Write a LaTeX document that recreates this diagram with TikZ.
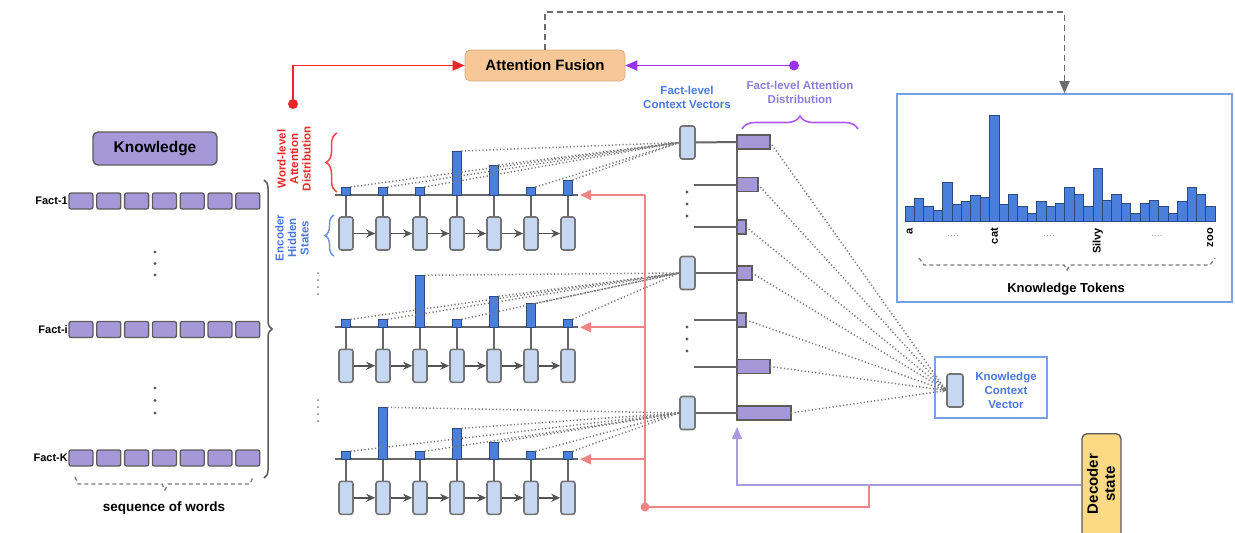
\documentclass[tikz,border=0pt]{standalone}
\usepackage{fontspec}
\setmainfont{Liberation Sans}
\usetikzlibrary{arrows.meta,decorations.pathreplacing,calc}

\definecolor{kpurple}{HTML}{A598D8}
\definecolor{boxgray}{HTML}{5C5C5C}
\definecolor{hblue}{HTML}{C6D7F2}
\definecolor{barblue}{HTML}{4A80DB}
\definecolor{bardark}{HTML}{2D4A80}
\definecolor{axisgray}{HTML}{666666}
\definecolor{afus}{HTML}{F8C797}
\definecolor{decy}{HTML}{FCD985}
\definecolor{redlight}{HTML}{F08585}
\definecolor{redbright}{HTML}{E82828}
\definecolor{violet}{HTML}{9A30F0}
\definecolor{declilac}{HTML}{A99BE0}
\definecolor{lblblue}{HTML}{4A78E0}
\definecolor{lbllilac}{HTML}{8A7FD8}
\definecolor{tokblue}{HTML}{78A2E8}
\definecolor{dotgray}{HTML}{7A7A7A}

\tikzset{
  word/.style={draw=boxgray, fill=kpurple, rounded corners=2pt, minimum width=24pt,
    minimum height=16pt, inner sep=0pt, line width=1.3pt},
  hidden/.style={draw=boxgray!85, fill=hblue, rounded corners=2.5pt, minimum width=14pt,
    minimum height=33pt, inner sep=0pt, line width=1.6pt},
  abar/.style={draw=bardark, fill=barblue, inner sep=0pt, outer sep=0pt, minimum width=9pt,
    anchor=south, line width=1pt},
  fbar/.style={draw=boxgray, fill=kpurple, inner sep=0pt, outer sep=0pt, minimum height=14pt,
    anchor=west, line width=1.4pt},
  att/.style={draw=dotgray, line width=1.5pt, dash pattern=on 1.2pt off 2.3pt},
  axisline/.style={draw=axisgray, line width=2pt},
  stem/.style={draw=axisgray, line width=1.7pt},
  harrow/.style={draw=boxgray!90!black, line width=1.6pt, -{Stealth[length=9pt,width=8pt]}},
  redline/.style={draw=redlight, line width=1.7pt},
  redtip/.style={redline, -{Triangle[length=11pt,width=10pt]}},
  factlab/.style={font=\fontsize{11}{13}\selectfont\bfseries, inner sep=0pt},
  toklab/.style={font=\fontsize{11}{13}\selectfont\bfseries, rotate=90, anchor=east, inner sep=0pt},
  gdot/.style={fill=boxgray},
}

% one encoder row: #1 index, #2 y of the attention axis, #3 bar heights
\newcommand{\encblock}[3]{%
  \draw[axisline] (335,#2) -- (578,#2);
  \coordinate (le-#1) at (580,#2);
  \foreach \h [count=\i] in {#3} {
    \node[hidden] (h-#1-\i) at ({346+37*(\i-1)},#2+38.5) {};
    \draw[stem] ({346+37*(\i-1)},#2) -- (h-#1-\i.north);
    \node[abar, minimum height=\h pt] (a-#1-\i) at ({346+37*(\i-1)},#2) {};
  }
  \foreach \i [evaluate=\i as \j using int(\i+1)] in {1,...,6}
    \draw[harrow] (h-#1-\i) -- (h-#1-\j);
  \foreach \i in {1,...,7}
    \draw[att] (a-#1-\i.north east) -- (cv-#1.west);
}

\begin{document}
\begin{tikzpicture}[x=1pt,y=-1pt, font=\bfseries]
\useasboundingbox (0,0) rectangle (1235,533);

% ---------- knowledge input ----------
\node[draw=boxgray, fill=kpurple, rounded corners=5pt, line width=1.4pt, minimum width=124pt,
  minimum height=33pt, font=\fontsize{15.5}{18}\selectfont\bfseries] (know) at (155,148.5) {Knowledge};

\foreach \r/\yy/\lab in {1/201/Fact-1, i/329.5/Fact-i, K/458/Fact-K} {
  \node[factlab, anchor=east] (lab-\r) at (68,\yy) {\lab};
  \foreach \c in {1,...,7}
    \node[word] (w-\r-\c) at ({81+27.8*(\c-1)},\yy) {};
}
\foreach \yy in {252,263.5,275,388,400.5,413}
  \fill[gdot] (155,\yy) circle[radius=1.6pt];

\draw[decorate, decoration={brace, amplitude=8pt}, draw=boxgray, line width=1.5pt]
  (264,180) -- (264,478);

\draw[dotgray, line width=1.3pt, dash pattern=on 4pt off 3pt]
  (75,477) -- (78,484) -- (162,484) -- (165,490) -- (168,484) -- (250,484) -- (253,477);
\node[font=\fontsize{13.5}{16}\selectfont\bfseries] (seq) at (164,508) {sequence of words};

% ---------- side labels ----------
\node[rotate=90, align=center, text=redbright, font=\fontsize{11.5}{12.5}\selectfont\bfseries]
  (wlad) at (294,159) {Word-level\\Attention\\Distribution};
\draw[decorate, decoration={brace, amplitude=11pt, mirror}, draw=redbright!85, line width=1.5pt]
  (337,133) -- (337,192);
\node[rotate=90, align=center, text=lblblue, font=\fontsize{11.5}{12.5}\selectfont\bfseries]
  (ehs) at (292,238) {Encoder\\Hidden\\States};
\draw[decorate, decoration={brace, amplitude=9pt, mirror}, draw=lblblue!80, line width=1.5pt]
  (334,215) -- (334,256);

\foreach \yy in {273,280,287,294,400,407,414,421}
  \fill[dotgray] (318,\yy) circle[radius=1pt];

% ---------- fact-level context vectors ----------
\node[hidden, minimum width=15pt] (cv-1) at (687.5,142.5) {};
\node[hidden, minimum width=15pt] (cv-2) at (687.5,273) {};
\node[hidden, minimum width=15pt] (cv-3) at (687.5,413) {};

% ---------- encoder rows ----------
\encblock{1}{195}{8,8,8,44,30,8,15}
\encblock{2}{327.3}{8,8,52,8,31,24,8}
\encblock{3}{459.3}{8,52,8,31,17,8,8}

% ---------- fact-level attention distribution ----------
\coordinate (fa-top) at (737,135);
\coordinate (fa-bot) at (737,421);
\draw[axisline] (fa-top) -- (fa-bot);
\foreach \i/\yy/\w in {1/142/33, 2/184.5/21, 3/227/9, 4/273/15, 5/320/9, 6/366.5/33, 7/413/54}
  \node[fbar, minimum width=\w pt] (f-\i) at (737,\yy) {};
\draw[axisline] (cv-1.east) -- (f-1.west);
\draw[axisline] (cv-2.east) -- (f-4.west);
\draw[axisline] (cv-3.east) -- (f-7.west);
\foreach \i/\yy in {2/184.5, 3/227, 5/320, 6/366.5} {
  \coordinate (fs-\i) at (694,\yy);
  \draw[axisline] (fs-\i) -- (f-\i.west);
}
\foreach \yy in {192,204,216,327,339,351}
  \fill[boxgray] (687,\yy) circle[radius=1.6pt];

\node[align=center, text=lblblue, font=\fontsize{11.5}{14}\selectfont\bfseries] (cvlab) at (687,97)
  {Fact-level\\Context Vectors};
\node[align=center, text=lbllilac, font=\fontsize{11.5}{14}\selectfont\bfseries] (fadlab) at (800,92)
  {Fact-level Attention\\Distribution};
\draw[decorate, decoration={brace, amplitude=13pt}, draw=violet!80, line width=1.6pt]
  (742,129) -- (858,129);

% ---------- knowledge context vector ----------
\node[draw=tokblue, line width=1.6pt, minimum width=112pt, minimum height=61pt, inner sep=0pt]
  (kcv) at (991,387.5) {};
\node[hidden, minimum width=16pt] (kvv) at (955,390.5) {};
\node[align=center, text=lblblue, font=\fontsize{11.5}{14}\selectfont\bfseries] (kcvlab) at (1006,390)
  {Knowledge\\Context\\Vector};
\foreach \i in {1,...,7}
  \draw[att, -{Stealth[length=4pt,width=3pt]}] (f-\i.east) -- (kvv.west);

% ---------- knowledge tokens ----------
\node[draw=tokblue, line width=1.6pt, minimum width=335pt, minimum height=208pt, inner sep=0pt]
  (kt) at (1064.5,198) {};
\foreach \h [count=\i] in {15,23.3,15,11,39,17.7,20.3,26.3,24.7,106.7,17.7,27.7,15,8.3,20.3,15,
    18.3,34,27.7,15,53.7,21.7,27.7,18.3,8.3,18.3,21.7,15,8.3,20.3,34,27.7,15}
  \draw[draw=bardark, fill=barblue, line width=0.9pt] ({905+9.4*(\i-1)},221.7) rectangle ++(9.4,-\h);
\node[toklab] (t-a) at (909.7,228) {a};
\node[toklab] (t-cat) at (994.3,228) {cat};
\node[toklab] (t-silvy) at (1097.7,228) {Silvy};
\node[toklab] (t-zoo) at (1210.3,228) {zoo};
\foreach \xx in {953,1049,1157}
  \node[text=dotgray!70, font=\fontsize{10}{12}\selectfont] at (\xx,236) {....};
\draw[dotgray, line width=1.3pt, dash pattern=on 4pt off 3pt]
  (919,258) -- (924,265) -- (1064,265) -- (1067,270) -- (1070,265) -- (1210,265) -- (1215,258);
\node[font=\fontsize{13}{15}\selectfont\bfseries] (ktlab) at (1066,289) {Knowledge Tokens};

% ---------- attention fusion ----------
\node[fill=afus, draw=afus!85!black, line width=0.6pt, rounded corners=5pt, minimum width=160pt,
  minimum height=31pt, font=\fontsize{15}{18}\selectfont\bfseries] (af) at (545,65.5) {Attention Fusion};

\coordinate (rdot) at (293,104);
\draw[draw=redbright, line width=1.9pt, -{Triangle[length=12pt,width=10pt]}] (rdot) |- (af.west);
\fill[redbright] (rdot) circle[radius=5pt];

\coordinate (pdot) at (794,65.5);
\draw[draw=violet, line width=1.9pt, -{Triangle[length=12pt,width=10pt]}] (pdot) -- (af.east);
\fill[violet] (pdot) circle[radius=5pt];

\coordinate (dtop) at (1064.5,12);
\draw[draw=boxgray!90, line width=1.8pt, dash pattern=on 6pt off 4pt, -{Triangle[length=12pt,width=10pt]}]
  (af.north) |- (dtop) -- (kt.north);

% ---------- decoder state ----------
\node[draw=boxgray, fill=decy, rounded corners=5pt, line width=1.4pt, minimum width=39pt,
  minimum height=115pt, anchor=north] (dec) at (1101.5,433) {};
\node[rotate=90, align=center, font=\fontsize{15}{17}\selectfont\bfseries] (dectext) at (1101,484)
  {Decoder\\state};

\coordinate (dj) at (869,485);
\coordinate (dc) at (737,485);
\coordinate (fin) at (737,427);
\draw[draw=declilac, line width=1.7pt, -{Triangle[length=12pt,width=10pt]}] (dec.west |- dj) -- (dc) -- (fin);

% ---------- red feedback to word-level attention ----------
\coordinate (rd) at (645,507);
\coordinate (rtop) at (645,195);
\draw[redline] (rtop) -- (rd) -- (869,507) -- (dj);
\draw[redtip] (645,195) -- (le-1);
\draw[redtip] (645,327.3) -- (le-2);
\draw[redtip] (645,459.3) -- (le-3);
\fill[redlight] (rd) circle[radius=4.5pt];

\end{tikzpicture}
\end{document}
